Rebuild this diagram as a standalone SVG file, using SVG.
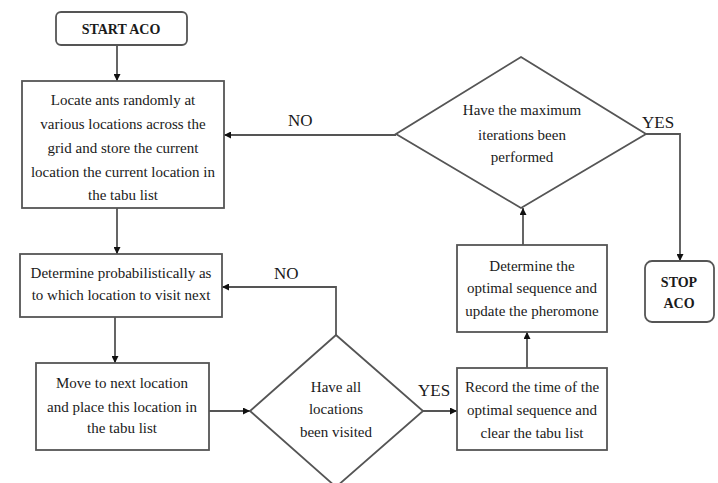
<svg xmlns="http://www.w3.org/2000/svg" width="718" height="483" viewBox="0 0 718 483">
  <defs>
    <marker id="arrow" viewBox="0 0 10 10" refX="10" refY="5" markerWidth="7" markerHeight="7" markerUnits="userSpaceOnUse" orient="auto">
      <path d="M0,0 L10,5 L0,10 z" fill="#111"/>
    </marker>
    <style>
      .shape { fill: #fff; stroke: #555; stroke-width: 1.8; }
      .line { fill: none; stroke: #555; stroke-width: 1.8; }
      .txt { font-family: "Liberation Serif", "Times New Roman", serif; font-size: 15px; fill: #1a1a1a; text-anchor: middle; }
      .bold { font-weight: bold; font-size: 14px; }
      .lbl { font-family: "Liberation Serif", "Times New Roman", serif; font-size: 17px; fill: #1a1a1a; }
    </style>
  </defs>
  <rect width="718" height="483" fill="#fff"/>

  <!-- connectors -->
  <g id="connectors">
    <line class="line" x1="117" y1="45" x2="117" y2="81" marker-end="url(#arrow)"/>
    <line class="line" x1="117" y1="208" x2="117" y2="254" marker-end="url(#arrow)"/>
    <line class="line" x1="115" y1="317" x2="115" y2="363" marker-end="url(#arrow)"/>
    <line class="line" x1="209" y1="411" x2="250" y2="411" marker-end="url(#arrow)"/>
    <line class="line" x1="423" y1="411" x2="457" y2="411" marker-end="url(#arrow)"/>
    <polyline class="line" points="336,335 336,287 222,287" marker-end="url(#arrow)"/>
    <line class="line" x1="527" y1="368" x2="527" y2="332" marker-end="url(#arrow)"/>
    <line class="line" x1="523" y1="245" x2="523" y2="208" marker-end="url(#arrow)"/>
    <line class="line" x1="396" y1="135" x2="224" y2="135" marker-end="url(#arrow)"/>
    <polyline class="line" points="646,134 680,134 680,261" marker-end="url(#arrow)"/>
    <text class="lbl" x="288" y="126">NO</text>
    <text class="lbl" x="642" y="128">YES</text>
    <text class="lbl" x="274" y="279">NO</text>
    <text class="lbl" x="418" y="396">YES</text>
  </g>

  <g id="start">
    <rect class="shape" x="56" y="12" width="131" height="33" rx="5"/>
    <text class="txt bold" x="121" y="34">START ACO</text>
  </g>

  <g id="locate">
    <rect class="shape" x="22" y="81" width="202" height="127"/>
    <text class="txt" x="123" y="105">Locate ants randomly at</text>
    <text class="txt" x="123" y="129">various locations across the</text>
    <text class="txt" x="123" y="153">grid and store the current</text>
    <text class="txt" x="123" y="177">location  the current location in</text>
    <text class="txt" x="123" y="200">the tabu list</text>
  </g>

  <g id="determine-next">
    <rect class="shape" x="20" y="254" width="202" height="63"/>
    <text class="txt" x="121" y="278">Determine probabilistically as</text>
    <text class="txt" x="121" y="300">to which location to visit next</text>
  </g>

  <g id="move">
    <rect class="shape" x="36" y="363" width="173" height="87"/>
    <text class="txt" x="122" y="388">Move to next location</text>
    <text class="txt" x="122" y="412">and place this location in</text>
    <text class="txt" x="122" y="433">the tabu list</text>
  </g>

  <g id="visited">
    <polygon class="shape" points="336,335 423,411 336,487 250,411"/>
    <text class="txt" x="336" y="392">Have all</text>
    <text class="txt" x="336" y="414">locations</text>
    <text class="txt" x="336" y="437">been visited</text>
  </g>

  <g id="record">
    <rect class="shape" x="457" y="368" width="150" height="82"/>
    <text class="txt" x="532" y="392">Record the time of the</text>
    <text class="txt" x="532" y="415">optimal sequence and</text>
    <text class="txt" x="532" y="438">clear the tabu list</text>
  </g>

  <g id="update">
    <rect class="shape" x="457" y="245" width="150" height="87"/>
    <text class="txt" x="532" y="271">Determine the</text>
    <text class="txt" x="532" y="293">optimal sequence and</text>
    <text class="txt" x="532" y="316">update the pheromone</text>
  </g>

  <g id="max-iter">
    <polygon class="shape" points="521,57 646,134 521,208 396,134"/>
    <text class="txt" x="522" y="115">Have the maximum</text>
    <text class="txt" x="522" y="140">iterations been</text>
    <text class="txt" x="522" y="162">performed</text>
  </g>

  <g id="stop">
    <rect class="shape" x="645" y="261" width="69" height="61" rx="7"/>
    <text class="txt bold" x="679" y="287">STOP</text>
    <text class="txt bold" x="679" y="308">ACO</text>
  </g>
</svg>
